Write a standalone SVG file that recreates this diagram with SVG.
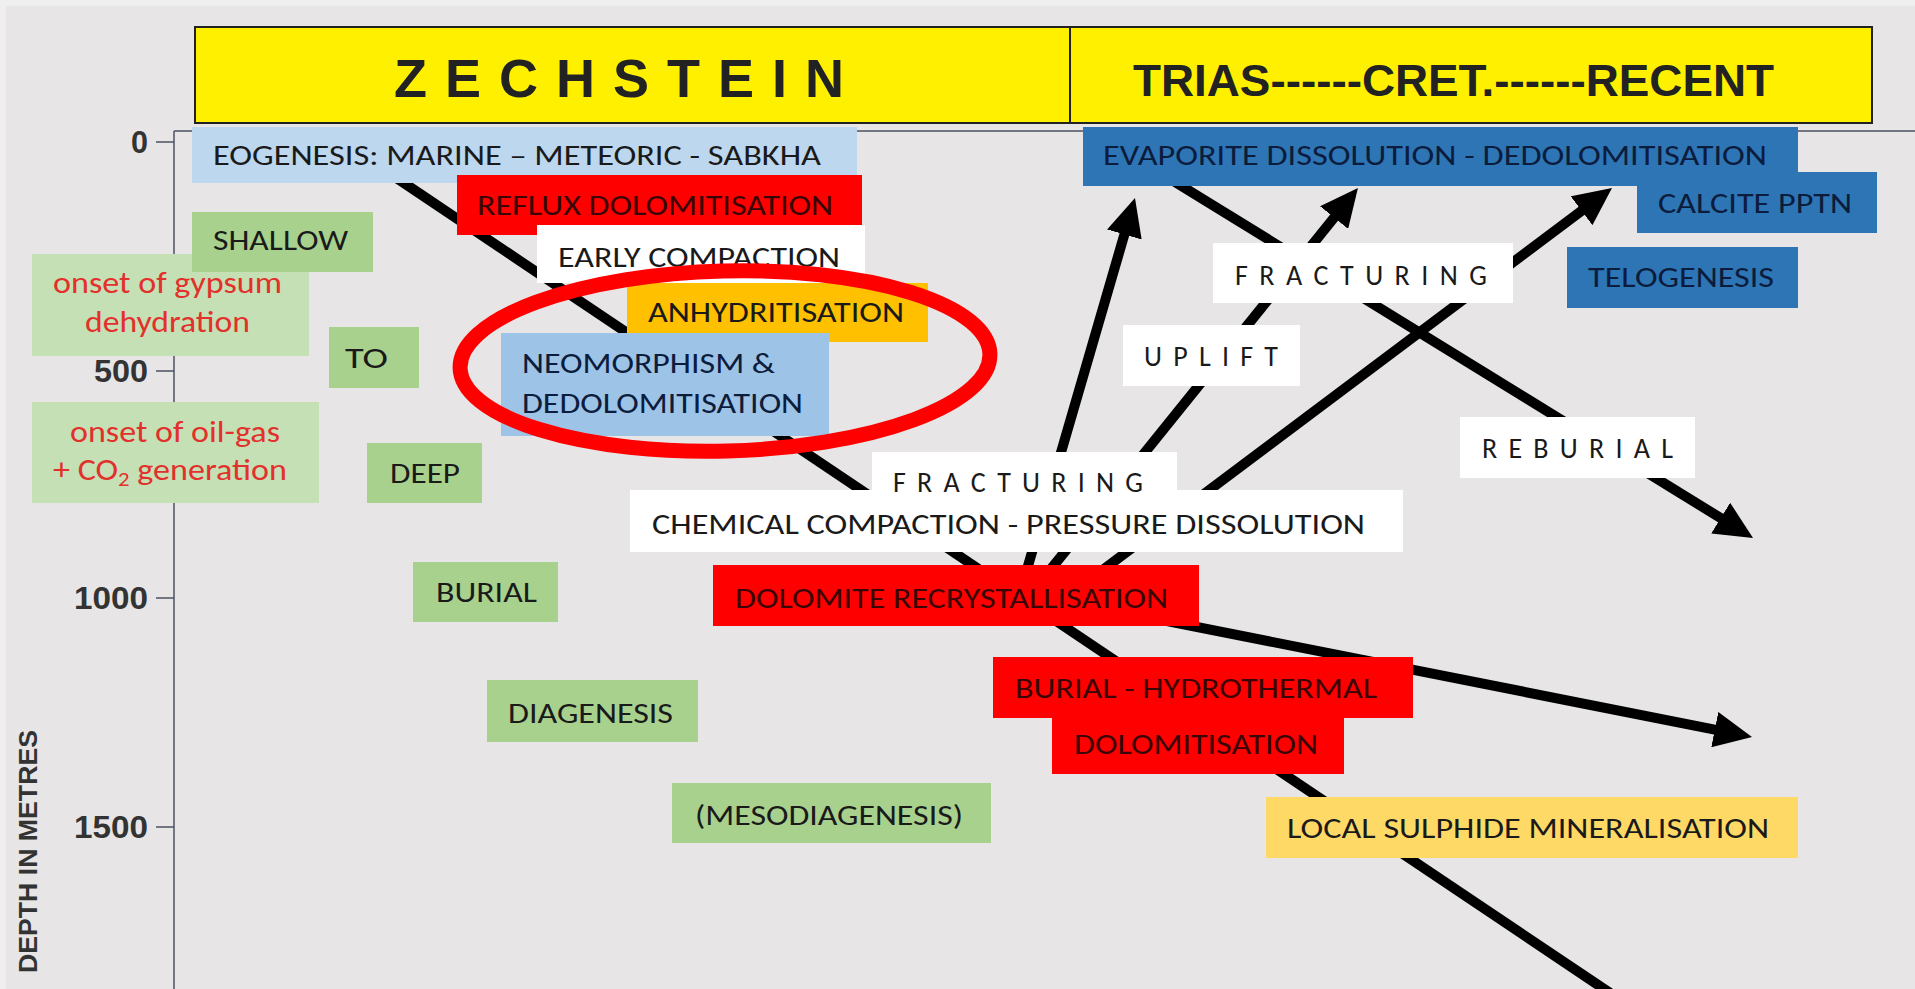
<svg xmlns="http://www.w3.org/2000/svg" width="1915" height="989" viewBox="0 0 1915 989">
<defs>
<style>
.t{font-family:Carlito,Lato,"Open Sans",sans-serif;font-size:29px;fill:#1a1a1a}
.tr{fill:#3a0505}
.tb{fill:#0c1c3c}
.sp{font-size:28px}
.rd{font-family:Carlito,Lato,"Open Sans",sans-serif;font-size:30px;fill:#e2302c}
.g{fill:#a9d18e}
.lg{fill:#c5e0b4}
.r{fill:#ff0000}
.w{fill:#ffffff}
.b{fill:#2e75b6}
.num{font-family:"Liberation Sans",Arial,sans-serif;font-weight:bold;font-size:32px;fill:#333}
.ax{stroke:#4a5160;stroke-width:1.5;fill:none}
</style>
<marker id="ah" markerUnits="userSpaceOnUse" markerWidth="38" markerHeight="36" viewBox="0 0 38 36" refX="18" refY="18" orient="auto">
<path d="M0,0 L38,18 L0,36 Z" fill="#000"/>
</marker>
</defs>
<rect x="0" y="0" width="1915" height="989" fill="#e7e5e5"/>
<rect x="0" y="0" width="1915" height="6" fill="#efefef"/>
<rect x="0" y="0" width="6" height="989" fill="#efefef"/>

<g id="header">
<rect x="195" y="27" width="1677" height="96" fill="#fff000" stroke="#222" stroke-width="2"/>
<line x1="1070" y1="27" x2="1070" y2="123" stroke="#222" stroke-width="2"/>
<text x="394" y="97" font-family="'Liberation Sans',Arial,sans-serif" font-weight="bold" font-size="54" fill="#222" letter-spacing="18">ZECHSTEIN</text>
<text x="1133" y="96" font-family="'Liberation Sans',Arial,sans-serif" font-weight="bold" font-size="44" fill="#222" textLength="641" lengthAdjust="spacingAndGlyphs">TRIAS------CRET.------RECENT</text>
</g>

<g id="axis">
<line class="ax" x1="174" y1="131" x2="1915" y2="131"/>
<line class="ax" x1="174" y1="131" x2="174" y2="989"/>
<line class="ax" x1="156" y1="142" x2="174" y2="142"/>
<line class="ax" x1="156" y1="371" x2="174" y2="371"/>
<line class="ax" x1="156" y1="598" x2="174" y2="598"/>
<line class="ax" x1="156" y1="827" x2="174" y2="827"/>
<text class="num" x="131" y="153" textLength="17" lengthAdjust="spacingAndGlyphs">0</text>
<text class="num" x="94" y="382" textLength="54" lengthAdjust="spacingAndGlyphs">500</text>
<text class="num" x="74" y="609" textLength="74" lengthAdjust="spacingAndGlyphs">1000</text>
<text class="num" x="74" y="838" textLength="74" lengthAdjust="spacingAndGlyphs">1500</text>
<text transform="translate(37,973) rotate(-90)" font-family="'Liberation Sans',Arial,sans-serif" font-weight="bold" font-size="26" fill="#333" textLength="243" lengthAdjust="spacingAndGlyphs">DEPTH IN METRES</text>
</g>

<g id="connectors" stroke="#000" stroke-width="10" fill="none">
<line x1="395" y1="177" x2="1610" y2="993"/>
<line x1="1000" y1="588" x2="1732.4" y2="733.1" marker-end="url(#ah)"/>
<line x1="1175" y1="182" x2="1736" y2="527.5" marker-end="url(#ah)"/>
<line x1="1021" y1="590" x2="1129.4" y2="217.2" marker-end="url(#ah)"/>
<line x1="1034" y1="590" x2="1345.4" y2="203.6" marker-end="url(#ah)"/>
<line x1="1076" y1="590" x2="1596" y2="200" marker-end="url(#ah)"/>
</g>

<g id="n-eogenesis"><rect x="192" y="127" width="665" height="56" fill="#bdd7ee"/><text class="t" x="213" y="165" textLength="608" lengthAdjust="spacingAndGlyphs">EOGENESIS: MARINE – METEORIC - SABKHA</text></g>
<g id="n-reflux"><rect class="r" x="457" y="175" width="405" height="60"/><text class="t tr" x="477" y="215" textLength="356" lengthAdjust="spacingAndGlyphs">REFLUX DOLOMITISATION</text></g>
<g id="n-early"><rect class="w" x="537" y="225" width="328" height="58"/><text class="t" x="558" y="267" textLength="282" lengthAdjust="spacingAndGlyphs">EARLY COMPACTION</text></g>
<g id="n-anhyd"><rect x="627" y="283" width="301" height="59" fill="#ffc000"/><text class="t" x="648" y="322" textLength="256" lengthAdjust="spacingAndGlyphs">ANHYDRITISATION</text></g>
<g id="n-neomorph"><rect x="501" y="333" width="328" height="103" fill="#9dc3e6"/><text class="t tb" x="522" y="373" textLength="253" lengthAdjust="spacingAndGlyphs">NEOMORPHISM &amp;</text><text class="t tb" x="522" y="413" textLength="281" lengthAdjust="spacingAndGlyphs">DEDOLOMITISATION</text></g>

<g id="n-gypsum"><rect class="lg" x="32" y="254" width="277" height="102"/><text class="rd" x="53" y="293" textLength="229" lengthAdjust="spacingAndGlyphs">onset of gypsum</text><text class="rd" x="85" y="332" textLength="165" lengthAdjust="spacingAndGlyphs">dehydration</text></g>
<g id="n-shallow"><rect class="g" x="192" y="212" width="181" height="60"/><text class="t" x="213" y="250" textLength="135" lengthAdjust="spacingAndGlyphs">SHALLOW</text></g>
<g id="n-to"><rect class="g" x="329" y="327" width="90" height="61"/><text class="t" x="345" y="368" textLength="43" lengthAdjust="spacingAndGlyphs">TO</text></g>
<g id="n-oilgas"><rect class="lg" x="32" y="402" width="287" height="101"/><text class="rd" x="70" y="442" textLength="210" lengthAdjust="spacingAndGlyphs">onset of oil-gas</text><text class="rd" x="53" y="480" textLength="234" lengthAdjust="spacingAndGlyphs">+ CO<tspan font-size="20" dy="6">2</tspan><tspan dy="-6"> generation</tspan></text></g>
<g id="n-deep"><rect class="g" x="367" y="443" width="115" height="60"/><text class="t" x="390" y="483" textLength="70" lengthAdjust="spacingAndGlyphs">DEEP</text></g>
<g id="n-burial"><rect class="g" x="413" y="562" width="145" height="60"/><text class="t" x="436" y="602" textLength="101" lengthAdjust="spacingAndGlyphs">BURIAL</text></g>
<g id="n-diagenesis"><rect class="g" x="487" y="680" width="211" height="62"/><text class="t" x="508" y="723" textLength="165" lengthAdjust="spacingAndGlyphs">DIAGENESIS</text></g>
<g id="n-meso"><rect class="g" x="672" y="783" width="319" height="60"/><text class="t" x="695" y="825" textLength="268" lengthAdjust="spacingAndGlyphs">(MESODIAGENESIS)</text></g>

<g id="n-chemical"><rect class="w" x="630" y="490" width="773" height="62"/><text class="t" x="652" y="534" textLength="713" lengthAdjust="spacingAndGlyphs">CHEMICAL COMPACTION - PRESSURE DISSOLUTION</text></g>
<g id="n-fract-low"><rect class="w" x="872" y="452" width="305" height="44"/><text class="t sp" x="893" y="492" textLength="250" lengthAdjust="spacing">FRACTURING</text></g>
<g id="n-dolrecryst"><rect class="r" x="713" y="565" width="486" height="61"/><text class="t tr" x="735" y="608" textLength="433" lengthAdjust="spacingAndGlyphs">DOLOMITE RECRYSTALLISATION</text></g>
<g id="n-burialhydro"><rect class="r" x="993" y="657" width="420" height="61"/><text class="t tr" x="1015" y="698" textLength="362" lengthAdjust="spacingAndGlyphs">BURIAL - HYDROTHERMAL</text></g>
<g id="n-dolomitisation"><rect class="r" x="1052" y="717" width="292" height="57"/><text class="t tr" x="1074" y="754" textLength="244" lengthAdjust="spacingAndGlyphs">DOLOMITISATION</text></g>
<g id="n-local"><rect x="1266" y="797" width="532" height="61" fill="#ffd966"/><text class="t" x="1287" y="838" textLength="482" lengthAdjust="spacingAndGlyphs">LOCAL SULPHIDE MINERALISATION</text></g>

<g id="n-evaporite"><rect class="b" x="1083" y="127" width="715" height="59"/><text class="t tb" x="1103" y="165" textLength="664" lengthAdjust="spacingAndGlyphs">EVAPORITE DISSOLUTION - DEDOLOMITISATION</text></g>
<g id="n-calcite"><rect class="b" x="1637" y="172" width="240" height="61"/><text class="t tb" x="1658" y="213" textLength="194" lengthAdjust="spacingAndGlyphs">CALCITE PPTN</text></g>
<g id="n-telogenesis"><rect class="b" x="1567" y="247" width="231" height="61"/><text class="t tb" x="1588" y="287" textLength="186" lengthAdjust="spacingAndGlyphs">TELOGENESIS</text></g>
<g id="n-fract-up"><rect class="w" x="1213" y="243" width="300" height="60"/><text class="t sp" x="1235" y="285" textLength="252" lengthAdjust="spacing">FRACTURING</text></g>
<g id="n-uplift"><rect class="w" x="1123" y="325" width="177" height="61"/><text class="t sp" x="1144" y="366" textLength="134" lengthAdjust="spacing">UPLIFT</text></g>
<g id="n-reburial"><rect class="w" x="1460" y="417" width="235" height="61"/><text class="t sp" x="1482" y="458" textLength="191" lengthAdjust="spacing">REBURIAL</text></g>

<g id="highlight"><ellipse cx="725" cy="361" rx="265" ry="90" fill="none" stroke="#ff0000" stroke-width="15" transform="rotate(-1.5 725 361)"/></g>
</svg>
